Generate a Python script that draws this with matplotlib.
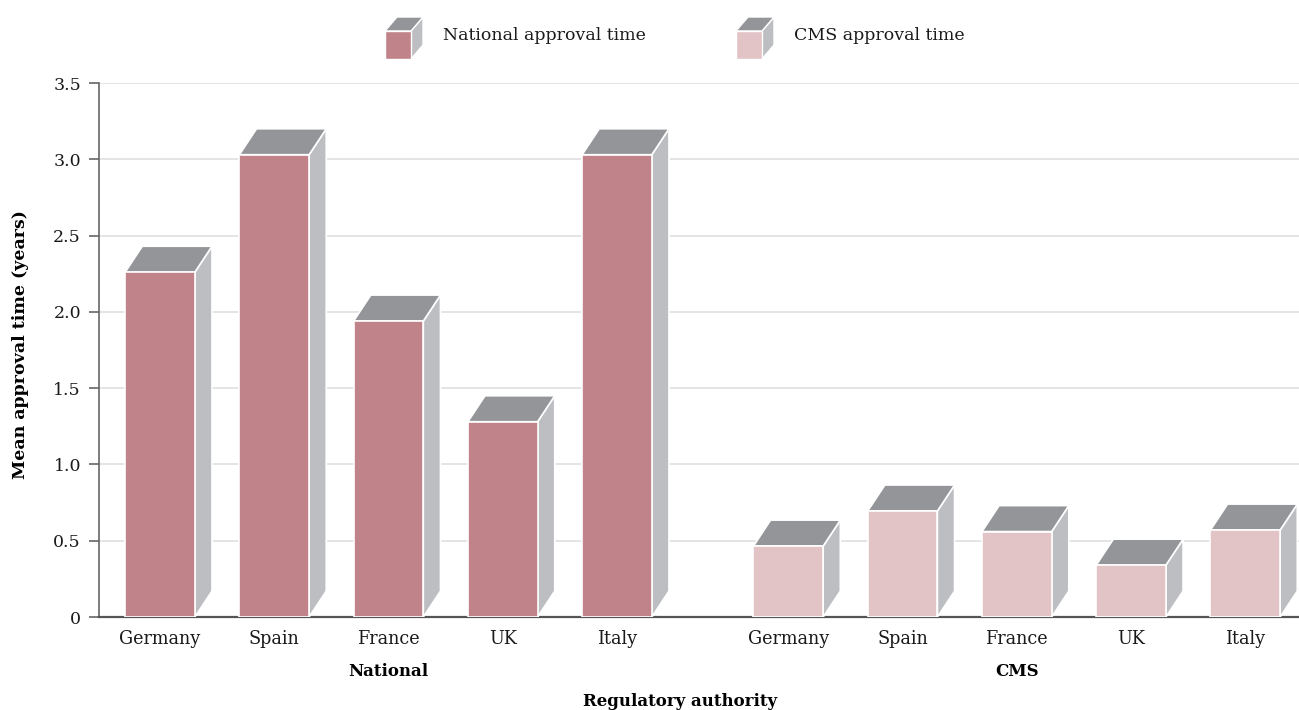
import matplotlib
matplotlib.use("Agg")
import matplotlib.pyplot as plt
from matplotlib.patches import Polygon, Rectangle

countries = ["Germany", "Spain", "France", "UK", "Italy"]
national_years = [2.26, 3.03, 1.94, 1.28, 3.03]
cms_years = [0.465, 0.695, 0.56, 0.34, 0.57]
groups = ["National", "CMS"]
series_names = ["National approval time", "CMS approval time"]
yticks = [0, 0.5, 1.0, 1.5, 2.0, 2.5, 3.0, 3.5]
ytick_labels = ["0", "0.5", "1.0", "1.5", "2.0", "2.5", "3.0", "3.5"]

front_colors = ["#c0838a", "#e2c4c6"]
top_color = "#939598"
side_color = "#bcbec1"
edge = "white"

plt.rcParams["font.family"] = ["DejaVu Serif"]

fig = plt.figure(figsize=(12.99, 7.10), dpi=100)
ax = fig.add_axes([99 / 1299, 93 / 710, 1 - 99 / 1299, 534 / 710])

width = 0.61
dx = 0.15   # depth offset along x (data units)
dy = 0.17   # depth offset along y (data units)

positions = [list(range(5)), [5.5 + i for i in range(5)]]
values = [national_years, cms_years]


def draw_box(ax, x0, h, color):
    x1 = x0 + width
    side = Polygon([(x1, 0), (x1 + dx, dy), (x1 + dx, h + dy), (x1, h)],
                   closed=True, facecolor=side_color, edgecolor=edge, lw=1.2, zorder=3)
    top = Polygon([(x0, h), (x0 + dx, h + dy), (x1 + dx, h + dy), (x1, h)],
                  closed=True, facecolor=top_color, edgecolor=edge, lw=1.2, zorder=3)
    front = Rectangle((x0, 0), width, h, facecolor=color, edgecolor=edge, lw=1.2, zorder=4)
    for p in (side, top, front):
        ax.add_patch(p)


for g in range(2):
    for xc, v in zip(positions[g], values[g]):
        draw_box(ax, xc - width / 2, v, front_colors[g])

ax.set_xlim(-0.534, 9.97)
ax.set_ylim(0, 3.5)
ax.set_yticks(yticks)
ax.set_yticklabels(ytick_labels, fontsize=12.5, color="#1a1a1a")
ax.yaxis.grid(True, color="#dcdcdc", lw=1.1, zorder=0)
ax.set_axisbelow(True)
ax.tick_params(axis="y", length=7, width=1.2, color="#666666", pad=6)
ax.set_xticks(positions[0] + positions[1])
ax.set_xticklabels(countries + countries, fontsize=12.7, color="#1a1a1a")
ax.tick_params(axis="x", length=0, pad=9)
for s in ("top", "right"):
    ax.spines[s].set_visible(False)
ax.spines["left"].set_color("#666666")
ax.spines["left"].set_linewidth(1.2)
ax.spines["bottom"].set_color("#555555")
ax.spines["bottom"].set_linewidth(1.6)

ax.set_ylabel("Mean approval time (years)", fontsize=12.5, fontweight="bold")
ax.yaxis.set_label_coords(-0.058, 0.51)

for g in range(2):
    ax.text(sum(positions[g]) / 5, -0.36, groups[g], ha="center", va="center",
            fontsize=12, fontweight="bold", transform=ax.transData)
fig.text(680 / 1299, 1 - 702 / 710, "Regulatory authority", ha="center", va="center",
         fontsize=12, fontweight="bold")

# legend cubes drawn in figure pixel space
def legend_cube(x0, color, label):
    w, h, ddx, ddy = 26 / 1299, 28 / 710, 12 / 1299, 14 / 710
    y0 = 1 - 59 / 710
    x1 = x0 + w
    tr = fig.transFigure
    fig.patches.append(Polygon([(x1, y0), (x1 + ddx, y0 + ddy), (x1 + ddx, y0 + h + ddy), (x1, y0 + h)],
                               closed=True, facecolor=side_color, edgecolor=edge, lw=1, transform=tr))
    fig.patches.append(Polygon([(x0, y0 + h), (x0 + ddx, y0 + h + ddy), (x1 + ddx, y0 + h + ddy), (x1, y0 + h)],
                               closed=True, facecolor=top_color, edgecolor=edge, lw=1, transform=tr))
    fig.patches.append(Rectangle((x0, y0), w, h, facecolor=color, edgecolor=edge, lw=1, transform=tr))
    fig.text(x1 + 32 / 1299, 1 - 36 / 710, label, ha="left", va="center", fontsize=12.5, color="#1a1a1a")


legend_cube(385 / 1299, front_colors[0], series_names[0])
legend_cube(736 / 1299, front_colors[1], series_names[1])

fig.savefig("out.png", dpi=100)
